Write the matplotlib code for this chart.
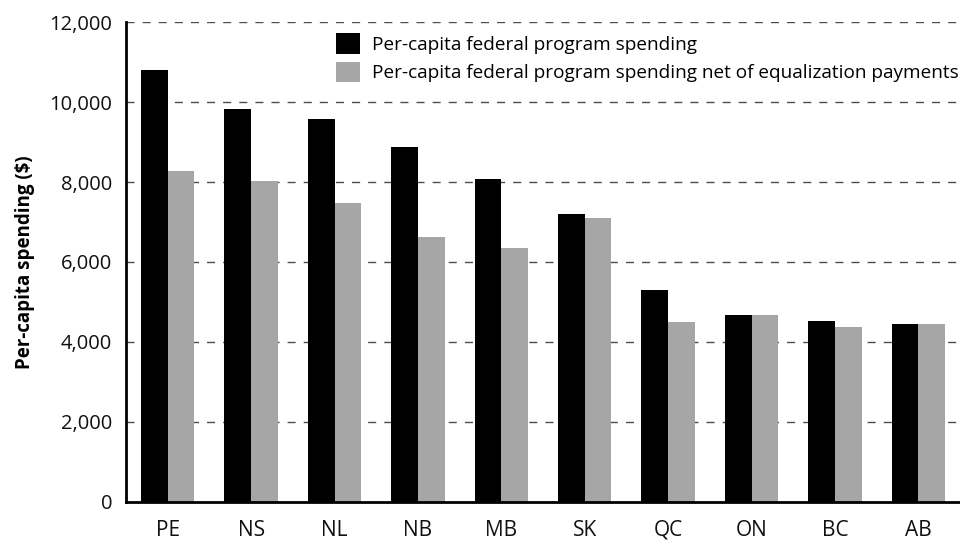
import matplotlib
matplotlib.use("Agg")
import matplotlib.pyplot as plt
import numpy as np

provinces = ["PE", "NS", "NL", "NB", "MB", "SK", "QC", "ON", "BC", "AB"]
total_spending = [10800, 9835, 9585, 8875, 8070, 7210, 5290, 4685, 4535, 4445]
net_of_equalization = [8275, 8020, 7485, 6615, 6360, 7100, 4500, 4685, 4365, 4445]
y_ticks = [0, 2000, 4000, 6000, 8000, 10000, 12000]
series_labels = ["Per-capita federal program spending",
                 "Per-capita federal program spending net of equalization payments"]

plt.rcParams["font.family"] = ["Open Sans", "DejaVu Sans"]

fig = plt.figure(figsize=(9.6, 5.42), dpi=100)
ax = fig.add_axes([0.1313, 0.0744, 0.8687, 0.8845])

x = np.arange(len(provinces))
w = 0.32
ax.bar(x - w / 2, total_spending, width=w, color="#000000", label=series_labels[0], zorder=3)
ax.bar(x + w / 2, net_of_equalization, width=w, color="#a6a6a6", label=series_labels[1], zorder=3)

ax.set_xlim(-0.5, len(provinces) - 0.5)
ax.set_ylim(0, 12000)
ax.set_yticks(y_ticks)
ax.set_yticklabels([f"{v:,}" for v in y_ticks], fontsize=14.5, color="#111111")
ax.set_xticks(x)
ax.set_xticklabels(provinces, fontsize=15, color="#111111")
ax.tick_params(axis="both", length=0)
ax.tick_params(axis="x", pad=13)
ax.tick_params(axis="y", pad=10)

for v in y_ticks[1:]:
    ax.axhline(v, color="#4d4d4d", lw=1.0, ls=(0, (5.8, 5.8)), zorder=1)

for s in ["top", "right"]:
    ax.spines[s].set_visible(False)
ax.spines["left"].set_linewidth(2.0)
ax.spines["bottom"].set_linewidth(2.0)
ax.spines["bottom"].set_zorder(4)

ax.set_ylabel("Per-capita spending ($)", fontsize=13.5, fontweight="bold", labelpad=10)

leg = ax.legend(loc="upper left", bbox_to_anchor=(0.252, 0.977), frameon=False,
                fontsize=13.7, handlelength=1.27, handleheight=1.27, handletextpad=0.62,
                labelspacing=0.42, borderaxespad=0, borderpad=0)

fig.savefig("out.png", dpi=100)
